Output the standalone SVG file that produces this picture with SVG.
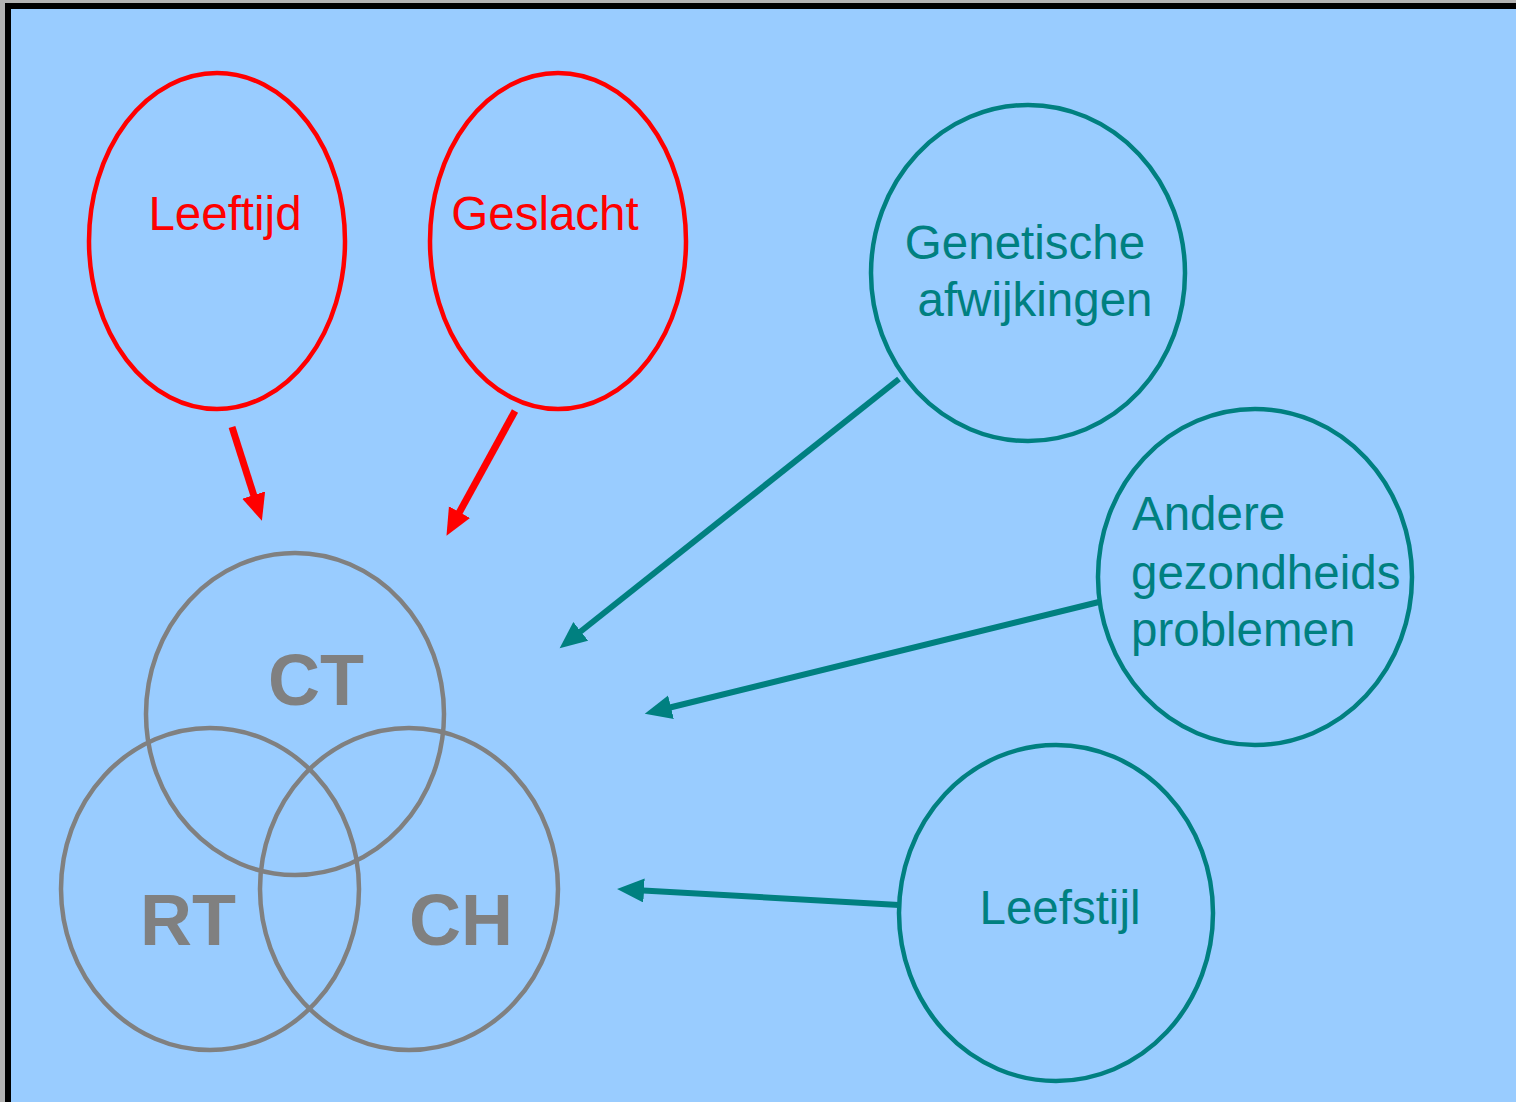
<svg xmlns="http://www.w3.org/2000/svg" width="1516" height="1102" viewBox="0 0 1516 1102">
<defs>
<style>
.red{fill:none;stroke:#ff0000;stroke-width:4.5}
.teal{fill:none;stroke:#008080;stroke-width:4.5}
.gray{fill:none;stroke:#808080;stroke-width:4.5}
.tr{font-family:"Liberation Sans",Arial,sans-serif;font-size:47.5px;fill:#ff0000}
.tt{font-family:"Liberation Sans",Arial,sans-serif;font-size:47.5px;fill:#008080}
.tg{font-family:"Liberation Sans",Arial,sans-serif;font-size:72px;font-weight:bold;fill:#808080}
.ar{stroke:#ff0000;stroke-width:7;fill:none}
.at{stroke:#008080;stroke-width:6;fill:none}
</style>
<marker id="hr" markerUnits="userSpaceOnUse" orient="auto" markerWidth="30" markerHeight="26" refX="1" refY="12" viewBox="0 0 30 26"><path d="M0,0 L27,12 L0,24 z" fill="#ff0000"/></marker>
<marker id="ht" markerUnits="userSpaceOnUse" orient="auto" markerWidth="30" markerHeight="26" refX="1" refY="12" viewBox="0 0 30 26"><path d="M0,0 L27,12 L0,24 z" fill="#008080"/></marker>
</defs>
<rect x="0" y="0" width="1516" height="1102" fill="#b3b3b3"/>
<rect x="8" y="6" width="1530" height="1120" fill="#99ccff" stroke="#000" stroke-width="6"/>
<g id="connectors">
<line class="ar" x1="232" y1="427" x2="254" y2="496" marker-end="url(#hr)"/>
<line class="ar" x1="515" y1="411" x2="459" y2="513" marker-end="url(#hr)"/>
<line class="at" x1="899" y1="379" x2="580" y2="632" marker-end="url(#ht)"/>
<line class="at" x1="1099" y1="602" x2="670" y2="707.5" marker-end="url(#ht)"/>
<line class="at" x1="899" y1="905" x2="643" y2="890.5" marker-end="url(#ht)"/>
</g>
<g id="leeftijd"><ellipse class="red" cx="217" cy="241" rx="128" ry="168"/><text class="tr" x="225" y="230" text-anchor="middle">Leeftijd</text></g>
<g id="geslacht"><ellipse class="red" cx="558" cy="241" rx="128" ry="168"/><text class="tr" x="545" y="230" text-anchor="middle">Geslacht</text></g>
<g id="genetische"><ellipse class="teal" cx="1028" cy="273" rx="157" ry="168"/><text class="tt" x="1025" y="259" text-anchor="middle">Genetische</text><text class="tt" x="1035" y="316" text-anchor="middle">afwijkingen</text></g>
<g id="andere"><ellipse class="teal" cx="1255" cy="577" rx="157" ry="168"/><text class="tt" x="1132" y="530">Andere</text><text class="tt" x="1131" y="589">gezondheids</text><text class="tt" x="1131" y="646">problemen</text></g>
<g id="leefstijl"><ellipse class="teal" cx="1056" cy="913" rx="157" ry="168"/><text class="tt" x="1060" y="924" text-anchor="middle">Leefstijl</text></g>
<g id="ct"><ellipse class="gray" cx="295" cy="714" rx="149" ry="161"/><text class="tg" x="316" y="705" text-anchor="middle">CT</text></g>
<g id="rt"><ellipse class="gray" cx="210" cy="889" rx="149" ry="161"/><text class="tg" x="188" y="945" text-anchor="middle">RT</text></g>
<g id="ch"><ellipse class="gray" cx="409" cy="889" rx="149" ry="161"/><text class="tg" x="461" y="945" text-anchor="middle">CH</text></g>
</svg>
